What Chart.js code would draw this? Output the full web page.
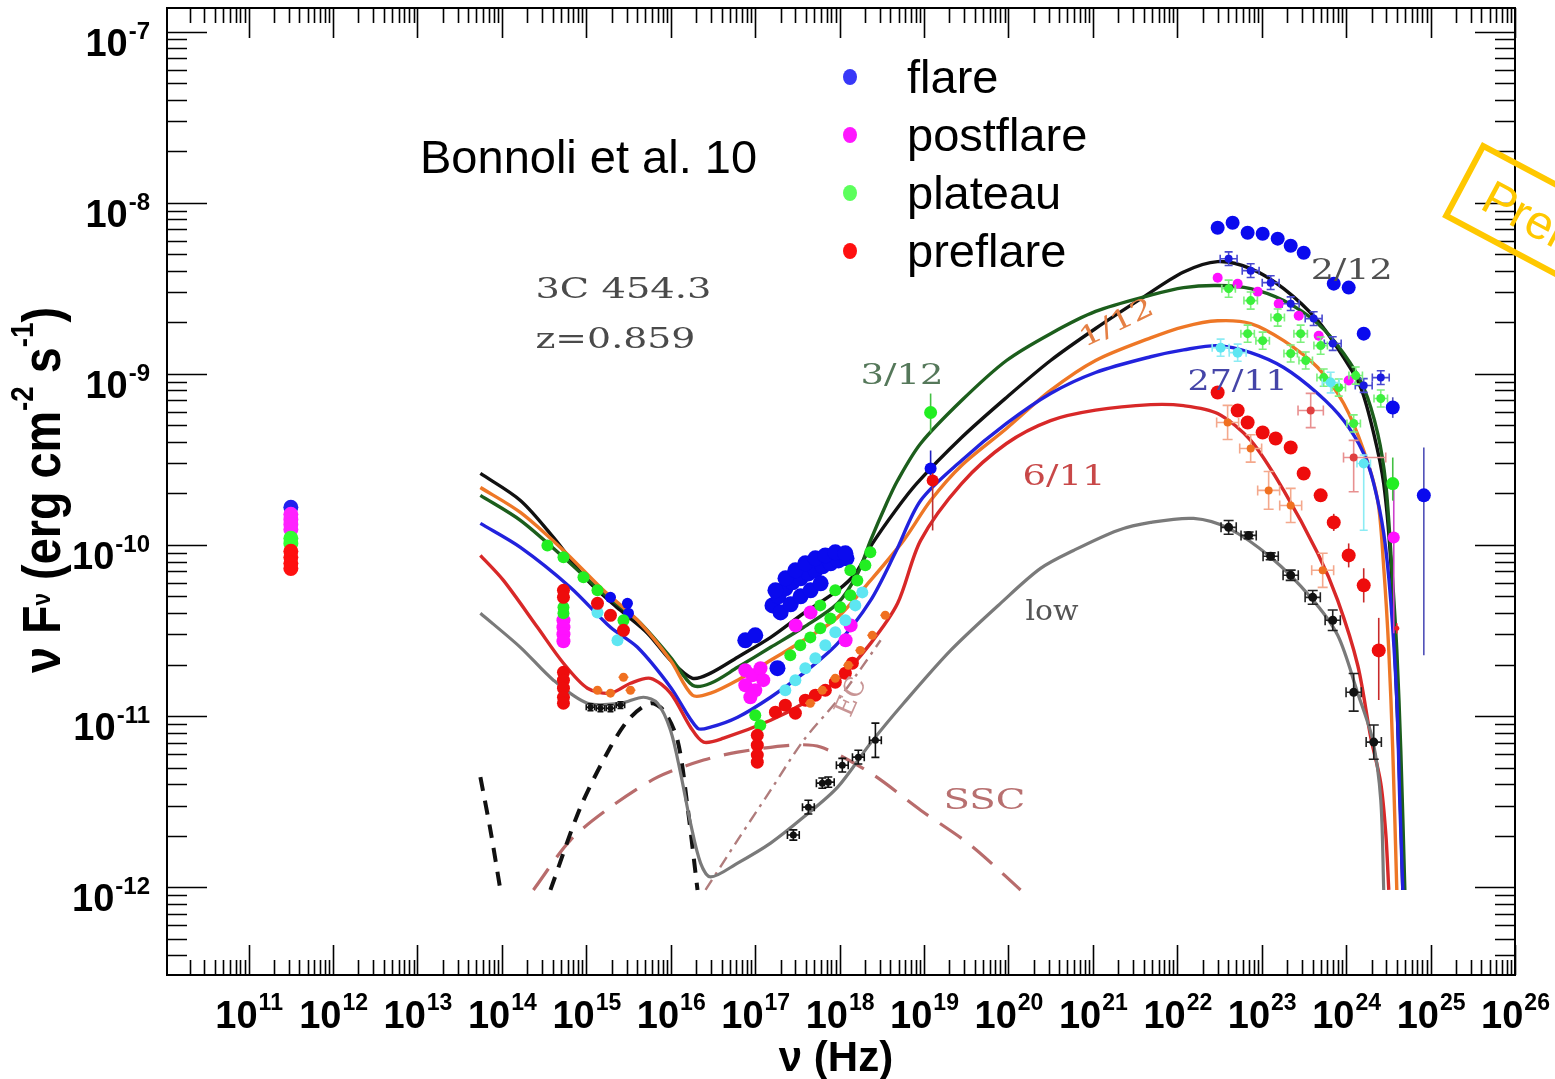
<!DOCTYPE html>
<html>
<head>
<meta charset="utf-8">
<script src="https://cdn.jsdelivr.net/npm/chart.js@4.4.1/dist/chart.umd.min.js"></script>
<style>
  html, body { margin: 0; padding: 0; background: #ffffff; }
  #wrap { width: 1555px; height: 1079px; }
</style>
</head>
<body>
<div id="wrap"><canvas id="sed" width="1555" height="1079"></canvas></div>
<script>
// 3C 454.3 spectral energy distribution, all values stored as log10(nu / Hz) and log10(nuFnu / erg cm^-2 s^-1)

// ---- axis ranges and tick decades ----
const logNuMin = 10.033, logNuMax = 26;
const logFluxMin = -12.513, logFluxMax = -6.862;
const xTickExps = [11, 12, 13, 14, 15, 16, 17, 18, 19, 20, 21, 22, 23, 24, 25, 26];
const yTickExps = [-7, -8, -9, -10, -11, -12];

// ---- legend ----
const legendLabels = ['flare', 'postflare', 'plateau', 'preflare'];
const legendColors = ['#3838f8', '#ff18ff', '#5cff5c', '#ff1010'];

// ---- radio points (single frequency, four states) ----
const radioNu = 11.5;
const radioFlare = [-9.780];
const radioPostflare = [-9.821, -9.851, -9.880, -9.909];
const radioPlateau = [-9.961, -9.991];
const radioPreflare = [-10.037, -10.072, -10.107, -10.137];

// ---- model curves ----
const modelFlareNu = [13.745, 14.219, 14.610, 15.013, 15.404, 15.724, 15.997, 16.258, 16.472, 16.792, 17.183, 17.574, 17.977, 18.188, 18.390, 18.662, 18.912, 19.445, 19.977, 20.499, 21.032, 21.566, 22.075, 22.478, 22.869, 23.260, 23.663, 23.971, 24.173, 24.327, 24.445, 24.528, 24.576, 24.623, 24.671];
const modelFlareF = [-9.582, -9.740, -9.956, -10.207, -10.382, -10.516, -10.674, -10.779, -10.749, -10.656, -10.540, -10.399, -10.265, -10.166, -9.991, -9.798, -9.641, -9.372, -9.138, -8.922, -8.735, -8.562, -8.405, -8.344, -8.385, -8.502, -8.689, -8.905, -9.080, -9.349, -9.641, -10.090, -10.616, -11.199, -12.016];

const model0312Nu = [13.745, 14.219, 14.729, 15.203, 15.606, 15.997, 16.258, 16.472, 16.792, 17.183, 17.574, 17.977, 18.214, 18.367, 18.545, 18.687, 18.960, 19.445, 19.977, 20.499, 21.032, 21.684, 22.075, 22.478, 22.869, 23.260, 23.663, 23.971, 24.208, 24.374, 24.469, 24.540, 24.600, 24.647, 24.695];
const model0312F = [-9.710, -9.856, -10.072, -10.283, -10.440, -10.656, -10.820, -10.808, -10.715, -10.598, -10.481, -10.341, -10.166, -9.973, -9.769, -9.623, -9.407, -9.156, -8.922, -8.765, -8.635, -8.540, -8.496, -8.484, -8.502, -8.572, -8.706, -8.881, -9.080, -9.349, -9.641, -10.131, -10.616, -11.199, -12.016];

const model0112Nu = [13.745, 14.219, 14.729, 15.203, 15.606, 15.997, 16.258, 16.472, 16.792, 17.183, 17.574, 17.977, 18.367, 18.758, 19.078, 19.445, 19.977, 20.499, 21.032, 21.684, 22.075, 22.478, 22.869, 23.260, 23.663, 23.971, 24.208, 24.374, 24.445, 24.505, 24.552, 24.600];
const model0112F = [-9.664, -9.810, -10.032, -10.265, -10.440, -10.674, -10.878, -10.866, -10.790, -10.674, -10.557, -10.423, -10.207, -9.973, -9.740, -9.535, -9.319, -9.097, -8.922, -8.790, -8.725, -8.690, -8.706, -8.806, -8.963, -9.173, -9.448, -9.740, -10.131, -10.616, -11.199, -12.016];

const model2711Nu = [13.745, 14.219, 14.812, 15.286, 15.606, 15.997, 16.317, 16.472, 16.792, 17.183, 17.574, 17.977, 18.367, 18.662, 18.960, 19.445, 19.977, 20.499, 21.032, 21.684, 22.075, 22.478, 22.869, 23.260, 23.663, 23.971, 24.208, 24.327, 24.445, 24.528, 24.600, 24.635, 24.671];
const model2711F = [-9.874, -10.014, -10.248, -10.481, -10.598, -10.831, -11.071, -11.065, -11.007, -10.890, -10.749, -10.575, -10.324, -10.043, -9.740, -9.506, -9.290, -9.115, -8.992, -8.900, -8.860, -8.835, -8.876, -8.963, -9.115, -9.273, -9.465, -9.641, -9.932, -10.324, -10.907, -11.491, -12.016];

const model0611Nu = [13.745, 14.018, 14.421, 14.729, 15.013, 15.286, 15.523, 15.760, 15.997, 16.234, 16.389, 16.626, 17.183, 17.574, 17.977, 18.367, 18.687, 18.960, 19.445, 19.977, 20.499, 21.032, 21.684, 22.075, 22.478, 22.869, 23.260, 23.663, 23.900, 24.137, 24.291, 24.410, 24.469, 24.505];
const model0611F = [-10.061, -10.207, -10.481, -10.691, -10.837, -10.866, -10.808, -10.779, -10.866, -11.065, -11.152, -11.129, -11.024, -10.925, -10.790, -10.575, -10.341, -9.973, -9.641, -9.407, -9.273, -9.212, -9.180, -9.186, -9.232, -9.389, -9.681, -10.049, -10.324, -10.703, -11.123, -11.392, -11.684, -12.016];

const modelLowNu = [13.745, 14.219, 14.610, 15.013, 15.404, 15.677, 15.843, 15.997, 16.116, 16.234, 16.353, 16.472, 16.792, 17.183, 17.574, 17.977, 18.367, 18.758, 19.315, 19.906, 20.380, 20.771, 21.293, 21.684, 22.193, 22.608, 23.106, 23.580, 23.900, 24.137, 24.315, 24.410, 24.445];
const modelLowF = [-10.399, -10.598, -10.790, -10.925, -10.925, -10.890, -10.925, -11.082, -11.333, -11.625, -11.859, -11.940, -11.859, -11.742, -11.590, -11.415, -11.158, -10.925, -10.616, -10.341, -10.137, -10.032, -9.915, -9.868, -9.845, -9.903, -10.072, -10.306, -10.528, -10.866, -11.141, -11.491, -12.016];

// thermal components (dashed), SSC and EC (low state)
const torusNu = [13.745, 13.864, 13.982];
const torusF = [-11.357, -11.666, -12.016];
const diskNu = [14.575, 14.931, 15.286, 15.523, 15.760, 15.914, 16.080, 16.199, 16.317];
const diskF = [-12.016, -11.532, -11.181, -11.007, -10.925, -10.966, -11.141, -11.532, -12.016];
const sscNu = [14.373, 14.812, 15.286, 15.843, 16.389, 16.792, 17.420, 17.775, 18.367, 18.960, 19.551, 20.143];
const sscF = [-12.016, -11.725, -11.532, -11.357, -11.257, -11.211, -11.170, -11.181, -11.333, -11.550, -11.754, -12.016];
const ecNu = [16.412, 16.792, 17.183, 17.574, 17.977, 18.214, 18.486];
const ecF = [-12.016, -11.725, -11.433, -11.141, -10.907, -10.749, -10.557];

// ---- observed points ----
const blueUvNu = [15.286, 15.487, 15.499];
const blueUvF = [-10.306, -10.341, -10.399];
const blueXrayNu = [17.205, 17.276, 17.359, 17.442, 17.538, 17.632, 17.715, 17.798, 17.893, 17.987, 18.082, 17.301, 17.420, 17.538, 17.656, 17.775, 17.240, 17.359, 17.476, 17.594, 17.713, 17.831, 17.949, 18.068, 17.264, 16.883, 17.001];
const blueXrayF = [-10.353, -10.300, -10.253, -10.218, -10.195, -10.166, -10.148, -10.125, -10.107, -10.090, -10.078, -10.394, -10.347, -10.300, -10.265, -10.224, -10.265, -10.195, -10.148, -10.107, -10.078, -10.061, -10.043, -10.049, -10.720, -10.557, -10.528];
const blueHxNu = [19.078];
const blueHxF = [-9.553];
const blueGammaNu = [22.478, 22.655, 22.833, 23.011, 23.189, 23.343, 23.497, 23.853, 24.030, 24.208, 24.552, 24.920];
const blueGammaF = [-8.146, -8.117, -8.175, -8.181, -8.210, -8.251, -8.292, -8.473, -8.496, -8.765, -9.197, -9.710];
const blueCrossNu = [22.608, 22.869, 23.106, 23.343, 23.615, 23.841, 24.208, 24.410];
const blueCrossF = [-8.327, -8.397, -8.467, -8.590, -8.677, -8.823, -9.068, -9.022];

const magentaNu = [14.729, 14.729, 14.729, 14.729, 16.883, 16.966, 17.063, 16.883, 17.001, 17.096, 16.943, 17.479, 17.656, 18.131, 18.071];
const magentaF = [-10.440, -10.481, -10.522, -10.563, -10.732, -10.761, -10.720, -10.820, -10.849, -10.790, -10.890, -10.470, -10.394, -10.470, -10.557];
const magentaGammaNu = [22.478, 22.715, 22.952, 23.201, 23.438, 23.675, 24.030];
const magentaGammaF = [-8.438, -8.473, -8.520, -8.590, -8.660, -8.777, -9.039];
const magentaLastNu = [24.564];
const magentaLastF = [-9.956];

const greenNu = [14.539, 14.729, 14.966, 15.132, 15.440, 14.729, 14.729, 17.416, 17.534, 17.653, 17.771, 17.890, 18.008, 18.127, 18.210, 18.305, 18.364, 17.771, 17.949, 18.127, 17.001, 17.060];
const greenF = [-10.003, -10.072, -10.189, -10.265, -10.440, -10.364, -10.399, -10.645, -10.586, -10.540, -10.487, -10.429, -10.364, -10.294, -10.207, -10.119, -10.043, -10.353, -10.265, -10.148, -10.995, -11.053];
const greenGammaNu = [22.608, 22.869, 23.189, 23.461, 23.698, 24.113, 24.410, 22.833, 23.011, 23.343, 23.521, 23.734, 23.912, 24.089];
const greenGammaF = [-8.502, -8.572, -8.671, -8.765, -8.835, -9.010, -9.144, -8.765, -8.806, -8.881, -8.922, -9.022, -9.080, -9.290];
const greenBigNu = [19.078, 24.552];
const greenBigF = [-9.226, -9.641];

const redNu = [14.729, 14.729, 14.729, 14.729, 14.729, 14.729, 14.729, 15.132, 15.286, 15.440, 17.240, 17.357, 17.476, 17.594, 17.713, 17.831, 17.949, 18.068, 18.151, 17.025, 17.025, 17.025, 17.025];
const redF = [-10.265, -10.306, -10.744, -10.790, -10.837, -10.890, -10.925, -10.341, -10.411, -10.499, -10.977, -10.936, -10.983, -10.907, -10.878, -10.849, -10.802, -10.749, -10.691, -11.112, -11.170, -11.228, -11.269];
const redHxNu = [19.102];
const redHxF = [-9.623];
const redGammaNu = [22.478, 22.715, 22.833, 23.011, 23.165, 23.343, 23.497, 23.698, 23.853, 24.030, 24.208, 24.386];
const redGammaF = [-9.109, -9.214, -9.284, -9.343, -9.378, -9.430, -9.582, -9.710, -9.868, -10.061, -10.236, -10.616];
const redTinyNu = [24.600];
const redTinyF = [-10.487];

const cyanNu = [15.132, 15.369, 17.357, 17.476, 17.594, 17.713, 17.831, 17.949, 18.068, 18.186, 18.269];
const cyanF = [-10.394, -10.557, -10.849, -10.790, -10.720, -10.662, -10.586, -10.510, -10.440, -10.353, -10.277];
const cyanGammaNu = [22.513, 22.715, 23.817, 24.208];
const cyanGammaF = [-8.847, -8.876, -9.051, -9.524];

const orangeNu = [15.132, 15.286, 15.440, 15.523, 17.653, 17.795, 17.949, 18.103, 18.245, 18.387, 18.541];
const orangeF = [-10.849, -10.866, -10.773, -10.849, -10.925, -10.849, -10.779, -10.703, -10.616, -10.528, -10.411];
const orangeGammaNu = [22.596, 22.869, 23.082, 23.343, 23.722];
const orangeGammaF = [-9.284, -9.436, -9.681, -9.769, -10.148];
const salmonNu = [23.580, 24.089];
const salmonF = [-9.214, -9.489];

const lowOptNu = [15.049, 15.167, 15.286, 15.404];
const lowOptF = [-10.948, -10.954, -10.954, -10.936];
const lowXrayNu = [17.452, 17.630, 17.795, 17.866, 18.032, 18.222, 18.424];
const lowXrayF = [-11.695, -11.532, -11.392, -11.386, -11.287, -11.240, -11.141];
const lowGammaNu = [22.608, 22.845, 23.106, 23.343, 23.604, 23.841, 24.089, 24.327];
const lowGammaF = [-9.897, -9.944, -10.066, -10.177, -10.306, -10.440, -10.861, -11.152];

// ---- curve labels (placed in data coordinates) ----
const curveNotes = [
  { text: '3C 454.3', nu: 14.397, f: -8.555, color: '#4a4a4a', w: 176, rot: 0 },
  { text: 'z=0.859', nu: 14.397, f: -8.846, color: '#4a4a4a', w: 160, rot: 0 },
  { text: '3/12', nu: 18.247, f: -9.057, color: '#55785a', w: 83, rot: 0 },
  { text: '2/12', nu: 23.580, f: -8.444, color: '#505050', w: 82, rot: 0 },
  { text: '27/11', nu: 22.122, f: -9.097, color: '#4545a8', w: 100, rot: 0 },
  { text: '6/11', nu: 20.167, f: -9.652, color: '#c84848', w: 83, rot: 0 },
  { text: 'low', nu: 20.202, f: -10.440, color: '#555555', w: 53, rot: 0 },
  { text: 'SSC', nu: 19.230, f: -11.544, color: '#b87070', w: 82, rot: 0 },
  { text: '1/12', nu: 20.902, f: -8.846, color: '#e58045', w: 79, rot: -26 },
  { text: 'EC', nu: 18.127, f: -11.012, color: '#c89595', w: 40, rot: -66 }
];

// ---- helpers ----
const pts = (nu, f) => nu.map((v, i) => ({ x: Math.pow(10, v), y: Math.pow(10, f[i]) }));

function curve(nu, f, color, width, dash) {
  return {
    type: 'line', data: pts(nu, f), borderColor: color, borderWidth: width,
    borderDash: dash || [], pointRadius: 0, fill: false, showLine: true,
    tension: 0.3, order: 10
  };
}
function marks(nu, f, color, r, extra) {
  return Object.assign({
    type: 'scatter', data: pts(nu, f), backgroundColor: color, borderWidth: 0,
    pointRadius: r, pointHoverRadius: r, order: 1
  }, extra || {});
}
const fill = (n, v) => Array.from({ length: n }, () => v);

const datasets = [
  // model curves
  curve(modelLowNu, modelLowF, '#7a7a7a', 3.2),
  curve(torusNu, torusF, '#111111', 4, [14, 10]),
  curve(diskNu, diskF, '#111111', 4, [14, 10]),
  curve(sscNu, sscF, '#b86c6c', 3.2, [26, 14]),
  curve(ecNu, ecF, '#b07c7c', 2.4, [12, 6, 3, 6]),
  curve(model0611Nu, model0611F, '#d82828', 3.4),
  curve(model2711Nu, model2711F, '#2222dd', 3.4),
  curve(model0112Nu, model0112F, '#ee7726', 3.4),
  curve(model0312Nu, model0312F, '#1c5e1c', 3.4),
  curve(modelFlareNu, modelFlareF, '#111111', 3.4),

  // radio column
  marks(fill(4, radioNu), radioPreflare, '#ff1010', 7.5),
  marks(fill(2, radioNu), radioPlateau, '#33ff33', 7.5),
  marks(fill(4, radioNu), radioPostflare, '#ff22ff', 7.5),
  marks(fill(1, radioNu), radioFlare, '#2020ee', 7.5, { order: 2 }),

  // low state
  marks(lowOptNu, lowOptF, '#111111', 3, { errX: fill(4, 0.05), errY: fill(4, 0.02), errColor: '#111', errCap: 3 }),
  marks(lowXrayNu, lowXrayF, '#111111', 3.5, { errX: fill(7, 0.07), errY: [0.03, 0.04, 0.03, 0.03, 0.04, 0.04, 0.1], errColor: '#111', errCap: 4 }),
  marks(lowGammaNu, lowGammaF, '#111111', 4.5, { errX: fill(8, 0.09), errY: [0.04, 0.02, 0.02, 0.03, 0.04, 0.06, 0.11, 0.1], errColor: '#222', errCap: 5 }),

  // orange (6/11)
  marks(orangeNu, orangeF, '#f07020', 4.5, { errX: fill(11, 0.06), errColor: '#f08a50' }),
  marks(orangeGammaNu, orangeGammaF, '#f07020', 4, { errX: fill(5, 0.13), errY: [0.1, 0.08, 0.11, 0.1, 0.1], errColor: '#f4a88c', errCap: 5 }),
  marks(salmonNu, salmonF, '#e04040', 4, { errX: [0.15, [0.12, 0.38]], errY: [0.1, [0.2, 0.1]], errColor: '#e89090', errCap: 5 }),

  // red (preflare)
  marks(redNu, redF, '#ee0c0c', 6.5),
  marks(redHxNu, redHxF, '#ee0c0c', 6, { errY: [[0.292, 0.043]], errColor: '#c03030' }),
  marks(redGammaNu, redGammaF, '#ee0c0c', 7, { errY: [null, null, null, null, null, null, null, null, 0.05, 0.07, 0.1, [0.29, 0.19]], errColor: '#c82a2a' }),
  marks(redTinyNu, redTinyF, '#ee2020', 2.5, { errY: [0.03], errColor: '#ee2020' }),

  // cyan (27/11)
  marks(cyanNu, cyanF, '#5ee6f2', 6),
  marks(cyanGammaNu, cyanGammaF, '#5ee6f2', 5, { errX: [0.1, 0.1, 0.1, 0.08], errY: [0.05, 0.05, 0.06, [0.39, 0.05]], errColor: '#8cecf4', errCap: 4 }),

  // green (plateau)
  marks(greenNu, greenF, '#22ee22', 6),
  marks(greenGammaNu, greenGammaF, '#3cf03c', 4.5, { errX: fill(14, 0.08), errY: fill(14, 0.05), errColor: '#7cf07c', errCap: 4 }),
  marks(greenBigNu, greenBigF, '#22ee22', 6.5, { errY: [[0.117, 0.111], [0.1, 0.152]], errColor: '#44c044' }),

  // magenta (postflare)
  marks(magentaNu, magentaF, '#ff10ff', 7),
  marks(magentaGammaNu, magentaGammaF, '#ff10ff', 5),
  marks(magentaLastNu, magentaLastF, '#ff10ff', 6, { errY: [[0.56, 0.315]], errColor: '#cc40cc' }),

  // blue (flare)
  marks(blueUvNu, blueUvF, '#0a0aee', 5.5),
  marks(blueXrayNu, blueXrayF, '#0a0aee', 8),
  marks(blueHxNu, blueHxF, '#0a0aee', 6, { errY: [[0.082, 0.105]], errColor: '#2020c0' }),
  marks(blueCrossNu, blueCrossF, '#1a1ae0', 4, { errX: fill(8, 0.1), errY: fill(8, 0.04), errColor: '#4a4ad0', errCap: 4 }),
  marks(blueGammaNu, blueGammaF, '#0a0aee', 7, { errY: [null, null, null, null, null, null, null, null, null, null, 0.06, [0.935, 0.28]], errColor: '#5050b8' })
];

// ---- plugins ----
const errorBars = {
  id: 'errorBars',
  beforeDatasetDraw(chart, args) {
    const ds = chart.data.datasets[args.index];
    if (!ds.errX && !ds.errY) return;
    const xs = chart.scales.x, ys = chart.scales.y, ctx = chart.ctx, a = chart.chartArea;
    const cap = ds.errCap || 0;
    ctx.save();
    ctx.beginPath(); ctx.rect(a.left, a.top, a.right - a.left, a.bottom - a.top); ctx.clip();
    ctx.strokeStyle = ds.errColor || ds.backgroundColor;
    ctx.lineWidth = 1.6;
    ds.data.forEach((p, i) => {
      const lx = Math.log10(p.x), ly = Math.log10(p.y);
      const px = xs.getPixelForValue(p.x), py = ys.getPixelForValue(p.y);
      const ex = ds.errX ? ds.errX[i] : null, ey = ds.errY ? ds.errY[i] : null;
      ctx.beginPath();
      if (ex) {
        const [lo, hi] = Array.isArray(ex) ? ex : [ex, ex];
        const x0 = xs.getPixelForValue(Math.pow(10, lx - lo)), x1 = xs.getPixelForValue(Math.pow(10, lx + hi));
        ctx.moveTo(x0, py); ctx.lineTo(x1, py);
        if (cap) { ctx.moveTo(x0, py - cap); ctx.lineTo(x0, py + cap); ctx.moveTo(x1, py - cap); ctx.lineTo(x1, py + cap); }
      }
      if (ey) {
        const [lo, hi] = Array.isArray(ey) ? ey : [ey, ey];
        const y0 = ys.getPixelForValue(Math.pow(10, ly - lo)), y1 = ys.getPixelForValue(Math.pow(10, ly + hi));
        ctx.moveTo(px, y0); ctx.lineTo(px, y1);
        if (cap) { ctx.moveTo(px - cap, y0); ctx.lineTo(px + cap, y0); ctx.moveTo(px - cap, y1); ctx.lineTo(px + cap, y1); }
      }
      ctx.stroke();
    });
    ctx.restore();
  }
};

const SANS = '"Liberation Sans", Arial, Helvetica, sans-serif';
const SERIF = '"DejaVu Serif", "Liberation Serif", serif';

function stretchedText(ctx, text, x, y, font, color, width, rotDeg) {
  ctx.save();
  ctx.font = font;
  const w = ctx.measureText(text).width;
  ctx.translate(x, y);
  if (rotDeg) ctx.rotate(rotDeg * Math.PI / 180);
  ctx.scale(width ? width / w : 1, 1);
  ctx.fillStyle = color;
  ctx.textAlign = 'left';
  ctx.textBaseline = 'alphabetic';
  ctx.fillText(text, 0, 0);
  ctx.restore();
}

// pieces: [{t, size, dy}] drawn along a baseline
function runWidth(ctx, pieces, weight) {
  let w = 0;
  pieces.forEach(p => { ctx.font = `${weight} ${p.size}px ${SANS}`; w += ctx.measureText(p.t).width; });
  return w;
}
function drawRun(ctx, pieces, weight, color) {
  let x = 0;
  ctx.fillStyle = color;
  pieces.forEach(p => {
    ctx.font = `${weight} ${p.size}px ${SANS}`;
    ctx.fillText(p.t, x, p.dy || 0);
    x += ctx.measureText(p.t).width;
  });
}

const frameAndText = {
  id: 'frameAndText',
  afterDatasetsDraw(chart) {
    const ctx = chart.ctx, a = chart.chartArea, xs = chart.scales.x, ys = chart.scales.y;
    ctx.save();

    // curve annotations
    curveNotes.forEach(n => {
      const px = xs.getPixelForValue(Math.pow(10, n.nu)), py = ys.getPixelForValue(Math.pow(10, n.f));
      stretchedText(ctx, n.text, px, py, `27px ${SERIF}`, n.color, n.w, n.rot);
    });

    // frame
    ctx.strokeStyle = '#000';
    ctx.lineWidth = 2;
    ctx.strokeRect(a.left, a.top, a.right - a.left, a.bottom - a.top);

    // x ticks (bottom and top)
    ctx.beginPath();
    for (let e = 10; e <= 26; e++) {
      for (let m = 1; m <= 9; m++) {
        const lv = e + Math.log10(m);
        if (lv < logNuMin + 1e-6 || lv > logNuMax + 1e-6) continue;
        const px = Math.round(xs.getPixelForValue(m * Math.pow(10, e))) + 0.5;
        const len = m === 1 ? 30 : 15;
        ctx.moveTo(px, a.bottom); ctx.lineTo(px, a.bottom - len);
        ctx.moveTo(px, a.top); ctx.lineTo(px, a.top + len);
      }
    }
    // y ticks (left and right)
    for (let e = -13; e <= -7; e++) {
      for (let m = 1; m <= 9; m++) {
        const lv = e + Math.log10(m);
        if (lv < logFluxMin || lv > logFluxMax) continue;
        const py = Math.round(ys.getPixelForValue(m * Math.pow(10, e))) + 0.5;
        const len = m === 1 ? 40 : 20;
        ctx.moveTo(a.left, py); ctx.lineTo(a.left + len, py);
        ctx.moveTo(a.right, py); ctx.lineTo(a.right - len, py);
      }
    }
    ctx.lineWidth = 1.6;
    ctx.stroke();

    // x tick labels
    ctx.fillStyle = '#000';
    xTickExps.forEach(e => {
      const cx = xs.getPixelForValue(Math.pow(10, e));
      ctx.font = `bold 38px ${SANS}`; const wb = ctx.measureText('10').width;
      ctx.font = `bold 23px ${SANS}`; const ws = ctx.measureText(String(e)).width;
      const x0 = cx - (wb + ws) / 2;
      ctx.font = `bold 38px ${SANS}`; ctx.fillText('10', x0, 1028);
      ctx.font = `bold 23px ${SANS}`; ctx.fillText(String(e), x0 + wb + 1, 1010);
    });

    // y tick labels
    yTickExps.forEach(e => {
      const py = ys.getPixelForValue(Math.pow(10, e));
      ctx.font = `bold 24px ${SANS}`; const ws = ctx.measureText(String(e)).width;
      ctx.font = `bold 38px ${SANS}`; const wb = ctx.measureText('10').width;
      const right = 150;
      ctx.fillText('10', right - ws - wb - 1, py + 24);
      ctx.font = `bold 24px ${SANS}`; ctx.fillText(String(e), right - ws, py + 7);
    });

    // axis titles
    ctx.save();
    ctx.font = `bold 42px ${SANS}`;
    ctx.textAlign = 'center';
    ctx.fillText('\u03BD (Hz)', 836, 1071);
    ctx.restore();

    const yTitle = [
      { t: '\u03BD F', size: 54 },
      { t: '\u03BD', size: 26, dy: -10 },
      { t: ' (erg cm', size: 54 },
      { t: '-2', size: 32, dy: -27 },
      { t: ' s', size: 54 },
      { t: '-1', size: 32, dy: -27 },
      { t: ')', size: 54 }
    ];
    const tw = runWidth(ctx, yTitle, 'bold');
    ctx.save();
    ctx.translate(60, 490);
    ctx.rotate(-Math.PI / 2);
    ctx.scale(366 / tw, 1);
    ctx.translate(-tw / 2, 0);
    drawRun(ctx, yTitle, 'bold', '#000');
    ctx.restore();

    // reference note and legend
    ctx.fillStyle = '#000';
    ctx.font = `47px ${SANS}`;
    ctx.fillText('Bonnoli et al. 10', 420, 173);
    legendLabels.forEach((lab, i) => {
      const cy = 77 + i * 58;
      ctx.beginPath();
      ctx.fillStyle = legendColors[i];
      ctx.ellipse(850, cy, 7, 8, 0, 0, Math.PI * 2);
      ctx.fill();
      ctx.fillStyle = '#000';
      ctx.font = `47px ${SANS}`;
      ctx.fillText(lab, 907, cy + 16);
    });

    // stamp
    ctx.save();
    ctx.translate(1482, 142);
    ctx.rotate(28 * Math.PI / 180);
    ctx.strokeStyle = '#ffc800';
    ctx.lineWidth = 6;
    ctx.strokeRect(3, 3, 360, 79);
    ctx.fillStyle = '#ffc800';
    ctx.font = `48px ${SANS}`;
    ctx.fillText('Preliminary', 28, 60);
    ctx.restore();

    ctx.restore();
  }
};

new Chart(document.getElementById('sed'), {
  type: 'scatter',
  data: { datasets },
  options: {
    responsive: false,
    animation: false,
    devicePixelRatio: 1,
    events: [],
    layout: { padding: { left: 167, right: 40, top: 7, bottom: 104 } },
    plugins: { legend: { display: false }, tooltip: { enabled: false } },
    scales: {
      x: {
        type: 'logarithmic', display: false,
        min: Math.pow(10, logNuMin), max: Math.pow(10, logNuMax),
        afterBuildTicks: s => { s.min = Math.pow(10, logNuMin); s.max = Math.pow(10, logNuMax); }
      },
      y: {
        type: 'logarithmic', display: false,
        min: Math.pow(10, logFluxMin), max: Math.pow(10, logFluxMax),
        afterBuildTicks: s => { s.min = Math.pow(10, logFluxMin); s.max = Math.pow(10, logFluxMax); }
      }
    }
  },
  plugins: [errorBars, frameAndText]
});
</script>
</body>
</html>
